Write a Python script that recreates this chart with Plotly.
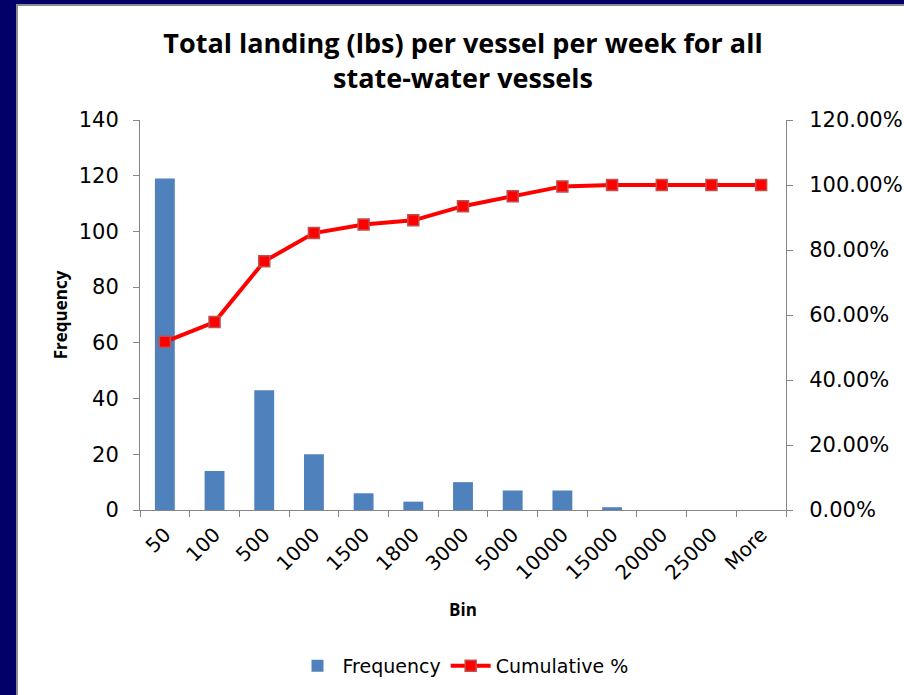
import plotly.graph_objects as go

# Histogram bins and counts
bins = ["50", "100", "500", "1000", "1500", "1800", "3000", "5000",
        "10000", "15000", "20000", "25000", "More"]
frequency = [119, 14, 43, 20, 6, 3, 10, 7, 7, 1, 0, 0, 0]
cumulative_pct = [51.74, 57.83, 76.52, 85.22, 87.83, 89.13, 93.48, 96.52,
                  99.57, 100.0, 100.0, 100.0, 100.0]
left_ticks = [0, 20, 40, 60, 80, 100, 120, 140]
right_ticks = [0, 20, 40, 60, 80, 100, 120]

W, H = 904, 695
ML, MR, MT, MB = 140, 118, 120, 185
PW, PH = W - ML - MR, H - MT - MB

TICK_FONT = "DejaVu Sans"
TITLE_FONT = "Open Sans"
AXIS_GRAY = "#868686"
NAVY = "#020068"
TXT = "#000000"


def px_x(x):
    return (x - ML) / PW


def px_y(y):
    return 1 - (y - MT) / PH


fig = go.Figure()

fig.add_trace(go.Bar(
    x=bins, y=frequency, name="Frequency",
    marker=dict(color="#4f81bd", line=dict(width=0)),
    yaxis="y",
))

fig.add_trace(go.Scatter(
    x=bins, y=cumulative_pct, name="Cumulative %",
    mode="lines+markers",
    line=dict(color="#ff0000", width=4),
    marker=dict(symbol="square", size=11, color="#ff0000",
                line=dict(color="#c0504d", width=1.5)),
    yaxis="y2",
))

# Navy frame along the top and left edges with a thin gray inner line
shapes = [
    dict(type="rect", xref="paper", yref="paper",
         x0=px_x(0), x1=px_x(W), y0=px_y(0), y1=px_y(4),
         fillcolor=NAVY, line=dict(width=0), layer="above"),
    dict(type="rect", xref="paper", yref="paper",
         x0=px_x(0), x1=px_x(16), y0=px_y(0), y1=px_y(H),
         fillcolor=NAVY, line=dict(width=0), layer="above"),
    dict(type="rect", xref="paper", yref="paper",
         x0=px_x(16), x1=px_x(W), y0=px_y(4), y1=px_y(6),
         fillcolor="#8c8c8c", line=dict(width=0), layer="above"),
    dict(type="rect", xref="paper", yref="paper",
         x0=px_x(16), x1=px_x(18), y0=px_y(4), y1=px_y(H),
         fillcolor="#8c8c8c", line=dict(width=0), layer="above"),
]

y_tick_font = dict(family=TICK_FONT, size=21, color=TXT)
x_tick_font = dict(family=TICK_FONT, size=20, color=TXT)

fig.update_layout(
    width=W, height=H,
    margin=dict(l=ML, r=MR, t=MT, b=MB, autoexpand=False),
    paper_bgcolor="white", plot_bgcolor="white",
    font=dict(family=TICK_FONT, color=TXT),
    title=dict(
        text="<b>Total landing (lbs) per vessel per week for all<br>state-water vessels</b>",
        x=0.5, xref="paper", xanchor="center",
        y=1 - 53 / H, yanchor="middle",
        font=dict(family=TITLE_FONT, size=27, color=TXT),
    ),
    bargap=0.6,
    showlegend=True,
    legend=dict(orientation="h", x=0.5, xanchor="center",
                y=px_y(666), yanchor="middle",
                font=dict(family=TICK_FONT, size=19, color=TXT),
                itemwidth=40, traceorder="normal"),
    xaxis=dict(
        type="category", range=[-0.5, 12.5],
        showline=True, linecolor=AXIS_GRAY, linewidth=1,
        ticks="outside", tickcolor=AXIS_GRAY, ticklen=6,
        tickson="boundaries", ticklabelstandoff=4,
        tickangle=-45, tickfont=x_tick_font,
        showgrid=False, zeroline=False,
        title=dict(text="<b>Bin</b>", font=dict(family=TITLE_FONT, size=17, color=TXT),
                   standoff=20),
    ),
    yaxis=dict(
        range=[0, 140], tickvals=left_ticks,
        showline=True, linecolor=AXIS_GRAY, linewidth=1,
        ticks="outside", tickcolor=AXIS_GRAY, ticklen=6,
        ticklabelstandoff=10,
        tickfont=y_tick_font,
        showgrid=False, zeroline=False,
        title=dict(text="<b>Frequency</b>", font=dict(family=TITLE_FONT, size=17, color=TXT),
                   standoff=6),
    ),
    yaxis2=dict(
        range=[0, 120], tickvals=right_ticks,
        ticktext=[f"{v:.2f}%" for v in right_ticks],
        overlaying="y", side="right",
        showline=True, linecolor=AXIS_GRAY, linewidth=1,
        ticks="outside", tickcolor=AXIS_GRAY, ticklen=6,
        ticklabelstandoff=12,
        tickfont=y_tick_font,
        showgrid=False, zeroline=False,
    ),
    shapes=shapes,
)

fig.write_html("out.html")
